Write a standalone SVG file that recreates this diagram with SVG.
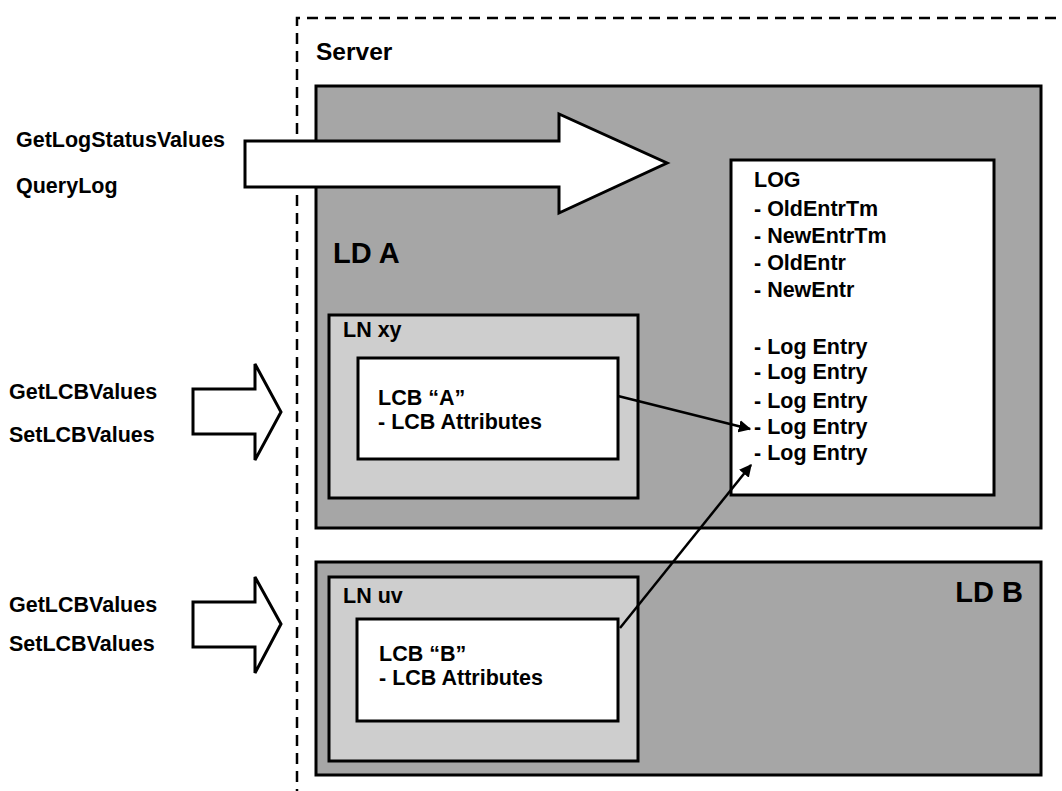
<svg xmlns="http://www.w3.org/2000/svg" width="1062" height="791" viewBox="0 0 1062 791">
<defs>
<style>
text{font-family:"Liberation Sans",Arial,sans-serif;font-weight:bold;fill:#000}
.t{font-size:21.5px}
.srv{font-size:24.5px}
.big{font-size:29px}
.ld{fill:#a6a6a6;stroke:#000;stroke-width:3}
.ln{fill:#cecece;stroke:#000;stroke-width:3}
.wb{fill:#fff;stroke:#000;stroke-width:3}
.conn{stroke:#000;stroke-width:2.5;fill:none}
</style>
<marker id="ah" viewBox="0 0 10 10" refX="9" refY="5" markerWidth="5" markerHeight="5" orient="auto" markerUnits="strokeWidth">
<path d="M0,0 L10,5 L0,10 z" fill="#000"/>
</marker>
</defs>
<rect width="1062" height="791" fill="#fff"/>
<g id="server">
<path d="M297,800 L297,18 L1070,18" fill="none" stroke="#000" stroke-width="2.5" stroke-dasharray="11,7"/>
<text class="srv" x="316" y="60">Server</text>
</g>
<g id="ld-a">
<rect class="ld" x="316" y="86" width="725" height="442"/>
<text class="big" x="333" y="263">LD A</text>
</g>
<g id="log">
<rect class="wb" x="731" y="160" width="263" height="335"/>
<text class="t" x="754" y="187">LOG</text>
<text class="t" x="754" y="216">- OldEntrTm</text>
<text class="t" x="754" y="243">- NewEntrTm</text>
<text class="t" x="754" y="270">- OldEntr</text>
<text class="t" x="754" y="297">- NewEntr</text>
<text class="t" x="754" y="354">- Log Entry</text>
<text class="t" x="754" y="379">- Log Entry</text>
<text class="t" x="754" y="408">- Log Entry</text>
<text class="t" x="754" y="434">- Log Entry</text>
<text class="t" x="754" y="460">- Log Entry</text>
</g>
<g id="ln-xy">
<rect class="ln" x="329" y="315" width="309" height="183"/>
<text class="t" x="343" y="337">LN xy</text>
</g>
<g id="lcb-a">
<rect class="wb" x="358" y="358" width="260" height="101"/>
<text class="t" x="378" y="405">LCB “A”</text>
<text class="t" x="378" y="429">- LCB Attributes</text>
</g>
<g id="ld-b">
<rect class="ld" x="316" y="562" width="725" height="213"/>
<text class="big" x="1023" y="602" text-anchor="end">LD B</text>
</g>
<g id="ln-uv">
<rect class="ln" x="329" y="577" width="309" height="184"/>
<text class="t" x="343" y="603">LN uv</text>
</g>
<g id="lcb-b">
<rect class="wb" x="357" y="619" width="261" height="102"/>
<text class="t" x="379" y="661">LCB “B”</text>
<text class="t" x="379" y="685">- LCB Attributes</text>
</g>
<g id="service-log">
<path class="wb" d="M245,141 L559,141 L559,114 L667,163 L559,213 L559,187 L245,187 z"/>
<text class="t" x="16" y="147">GetLogStatusValues</text>
<text class="t" x="16" y="193">QueryLog</text>
</g>
<g id="service-lcb-a">
<path class="wb" d="M193,389 L255,389 L255,364 L281,412 L255,460 L255,434 L193,434 z"/>
<text class="t" x="9" y="399">GetLCBValues</text>
<text class="t" x="9" y="442">SetLCBValues</text>
</g>
<g id="service-lcb-b">
<path class="wb" d="M193,602 L255,602 L255,577 L281,624 L255,673 L255,647 L193,647 z"/>
<text class="t" x="9" y="612">GetLCBValues</text>
<text class="t" x="9" y="651">SetLCBValues</text>
</g>
<g id="connectors">
<line class="conn" x1="618" y1="396" x2="750" y2="429" marker-end="url(#ah)"/>
<line class="conn" x1="620" y1="628" x2="751" y2="465" marker-end="url(#ah)"/>
</g>
</svg>
